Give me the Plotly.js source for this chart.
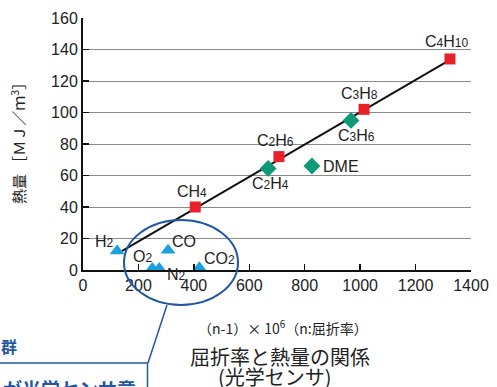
<!DOCTYPE html>
<html>
<head>
<meta charset="utf-8">
<script src="https://cdn.plot.ly/plotly-3.0.1.min.js"></script>
<style>html,body{margin:0;padding:0;background:#fff;}#chart{width:497px;height:387px;}</style>
</head>
<body>
<div id="chart"></div>
<script>
// ---- data ----
const alkaneNames = ["CH4", "C2H6", "C3H8", "C4H10"];
const alkaneX = [405, 707, 1014, 1324];
const alkaneY = [40, 72, 102, 134];

const alkeneNames = ["C2H4", "C3H6", "DME"];
const alkeneX = [668, 967, 826];
const alkeneY = [64.5, 95, 66];

const gasNames = ["H2", "O2", "N2", "CO", "CO2"];
const gasX = [123, 250, 275, 307, 420];
const gasY = [12, 1, 1, 12.5, 1.5];

const fitX = [140, 1310];
const fitY = [12, 132];

const xTicks = [0, 200, 400, 600, 800, 1000, 1200, 1400];
const yTicks = [0, 20, 40, 60, 80, 100, 120, 140, 160];

// ---- styles ----
const SUB = s => '<span style="font-size:12px">' + s + '</span>';
const labelText = {
  "CH4": "CH" + SUB("4"), "C2H6": "C" + SUB("2") + "H" + SUB("6"), "C3H8": "C" + SUB("3") + "H" + SUB("8"),
  "C4H10": "C" + SUB("4") + "H" + SUB("10"), "C2H4": "C" + SUB("2") + "H" + SUB("4"), "C3H6": "C" + SUB("3") + "H" + SUB("6"),
  "DME": "DME", "H2": "H" + SUB("2"), "O2": "O" + SUB("2"), "N2": "N" + SUB("2"), "CO": "CO", "CO2": "CO" + SUB("2")
};
const labelOffset = {
  "CH4": [-3, 16, "center"], "C2H6": [-3, 16, "center"], "C3H8": [-5, 16, "center"], "C4H10": [-3, 17, "center"],
  "C2H4": [2, -15, "center"], "C3H6": [5, -15, "center"], "DME": [9, 0, "left"],
  "H2": [-13, 10, "center"], "O2": [-10, 12, "center"], "CO": [16, 9, "center"], "N2": [17, -6, "center"], "CO2": [20, 9, "center"]
};

const W = 497, H = 387;
const L = 83, R = 471, T = 18, B = 270;
const px = x => (x - L) / (R - L);
const py = y => (B - y) / (B - T);

const RED = "#e8202a", GREEN = "#0e9a76", CYAN = "#1aa0dc", NAVY = "#1f56a6";
const FONT = "Liberation Sans, Arial, sans-serif";
const JP = "Noto Sans CJK JP, sans-serif";

const traces = [
  {x: fitX, y: fitY, mode: "lines", line: {color: "#111", width: 2}, hoverinfo: "skip"},
  {x: alkaneX, y: alkaneY, mode: "markers", marker: {symbol: "square", size: 11, color: RED}},
  {x: alkeneX, y: alkeneY, mode: "markers", marker: {symbol: "diamond", size: 13, color: GREEN}},
  {x: gasX, y: gasY, mode: "markers", marker: {symbol: "triangle-up", size: 13, color: CYAN}, cliponaxis: false}
];

const annotations = [];
function addLabels(names, xs, ys) {
  names.forEach((n, i) => {
    const o = labelOffset[n];
    annotations.push({x: xs[i], y: ys[i], xref: "x", yref: "y", text: labelText[n], showarrow: false,
      xshift: o[0], yshift: o[1], xanchor: o[2], font: {family: FONT, size: 16, color: "#222"}});
  });
}
addLabels(alkaneNames, alkaneX, alkaneY);
addLabels(alkeneNames, alkeneX, alkeneY);
addLabels(gasNames, gasX, gasY);

function paperText(text, x, y, size, opts) {
  annotations.push(Object.assign({xref: "paper", yref: "paper", x: px(x), y: py(y), text: text, showarrow: false,
    xanchor: "center", yanchor: "middle", font: {family: JP, size: size, color: "#222"}}, opts || {}));
}
paperText("熱量 ［ＭＪ／ｍ<sup>3</sup>］", 18, 140, 15, {textangle: -90});
paperText("（n-1）× 10<sup>6</sup>（n:屈折率）", 283, 327, 14);
paperText("屈折率と熱量の関係", 280, 356, 20);
paperText("(光学センサ)", 275, 376, 20);
paperText("<b>群</b>", -1, 346, 16, {xanchor: "left", font: {family: JP, size: 16, color: NAVY}});
paperText("<b>が光学センサ意</b>", 1, 388, 19, {xanchor: "left", font: {family: JP, size: 19, color: NAVY}});

const shapes = [
  {type: "circle", xref: "paper", yref: "paper", x0: px(124), x1: px(238), y0: py(220), y1: py(305),
    line: {color: NAVY, width: 2}},
  {type: "line", xref: "paper", yref: "paper", x0: px(167), y0: py(305), x1: px(148), y1: py(363),
    line: {color: NAVY, width: 1.5}},
  {type: "line", xref: "paper", yref: "paper", x0: px(-5), y0: py(363), x1: px(148), y1: py(363),
    line: {color: NAVY, width: 1.5}},
  {type: "line", xref: "paper", yref: "paper", x0: px(147.5), y0: py(363), x1: px(147.5), y1: py(395),
    line: {color: NAVY, width: 1.5}}
];

const axisCommon = {zeroline: false, showline: true, linecolor: "#111", linewidth: 2, ticks: "inside", ticklen: 6,
  tickwidth: 1.5, tickcolor: "#111", tickfont: {family: FONT, size: 16, color: "#222"}, fixedrange: true};

const layout = {
  width: W, height: H,
  margin: {l: L, r: W - R, t: T, b: H - B, pad: 0},
  showlegend: false,
  paper_bgcolor: "#fff", plot_bgcolor: "#fff",
  xaxis: Object.assign({range: [0, 1400], tickvals: xTicks, ticktext: xTicks.map(String), showgrid: false}, axisCommon),
  yaxis: Object.assign({range: [0, 160], tickvals: yTicks, ticktext: yTicks.map(String), showgrid: true,
    gridcolor: "#8a8a8a", gridwidth: 1}, axisCommon),
  annotations: annotations,
  shapes: shapes
};

Plotly.newPlot("chart", traces, layout, {staticPlot: true});
</script>
</body>
</html>
